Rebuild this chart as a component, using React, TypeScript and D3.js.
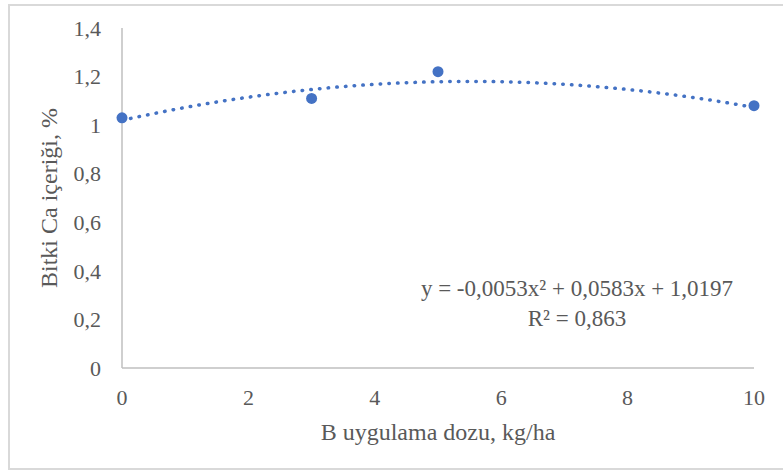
import React from 'react';
import * as d3 from 'd3';

const width = 783;
const height = 472;
const blue = '#4472C4';
const grey = '#595959';
const axisGrey = '#BFBFBF';

const doses = [0, 3, 5, 10];
const caValues = [1.03, 1.11, 1.22, 1.08];
const xTicks = [0, 2, 4, 6, 8, 10];
const yTicks = [0, 0.2, 0.4, 0.6, 0.8, 1, 1.2, 1.4];
const trendCoef = [-0.0053, 0.0583, 1.0197];
const equationText = 'y = -0,0053x² + 0,0583x + 1,0197';
const r2Text = 'R² = 0,863';

const fmt = (v: number) => String(Math.round(v * 10) / 10).replace('.', ',');

export default function App() {
  const margin = { top: 28, right: 29, bottom: 104, left: 122 };
  const x = d3
    .scaleLinear()
    .domain([0, 10])
    .range([margin.left, width - margin.right]);
  const y = d3
    .scaleLinear()
    .domain([0, 1.4])
    .range([height - margin.bottom, margin.top]);

  // trendline sampled along the fitted polynomial
  const trendX = d3.range(0, 10.001, 0.1);
  const trend = d3
    .line<number>()
    .x((d) => x(d))
    .y((d) => y(trendCoef[0] * d * d + trendCoef[1] * d + trendCoef[2]))(trendX);

  const font = '"Liberation Serif", "Times New Roman", serif';

  return (
    <svg
      width={width}
      height={height}
      style={{ position: 'absolute', left: 0, top: 0, background: '#fff' }}
      fontFamily={font}
    >
      <rect x={9} y={5} width={790} height={464} fill="#fff" stroke="#D9D9D9" strokeWidth={2} />

      <line x1={x(0)} x2={x(0)} y1={y(0)} y2={y(1.4)} stroke={axisGrey} strokeWidth={1.5} />
      <line x1={x(0)} x2={x(10)} y1={y(0)} y2={y(0)} stroke={axisGrey} strokeWidth={1.5} />

      {yTicks.map((t) => (
        <text key={t} x={x(0) - 21} y={y(t)} dy="0.35em" textAnchor="end" fontSize={22} fill={grey}>
          {fmt(t)}
        </text>
      ))}
      {xTicks.map((t) => (
        <text key={t} x={x(t)} y={y(0) + 29} dy="0.35em" textAnchor="middle" fontSize={22} fill={grey}>
          {t}
        </text>
      ))}

      <path d={trend ?? ''} fill="none" stroke={blue} strokeWidth={3.5} strokeLinecap="round" strokeDasharray="0.5 8.2" />

      {doses.map((d, i) => (
        <circle key={d} cx={x(d)} cy={y(caValues[i])} r={5.5} fill={blue} />
      ))}

      <text x={577} y={296} textAnchor="middle" fontSize={23} fill={grey}>
        {equationText}
      </text>
      <text x={577} y={326} textAnchor="middle" fontSize={23} fill={grey}>
        {r2Text}
      </text>

      <text x={(x(0) + x(10)) / 2} y={440} textAnchor="middle" fontSize={24} fill={grey}>
        B uygulama dozu, kg/ha
      </text>
      <text
        transform={`translate(57,${(y(0) + y(1.4)) / 2}) rotate(-90)`}
        textAnchor="middle"
        fontSize={24}
        fill={grey}
      >
        Bitki Ca içeriği, %
      </text>
    </svg>
  );
}
